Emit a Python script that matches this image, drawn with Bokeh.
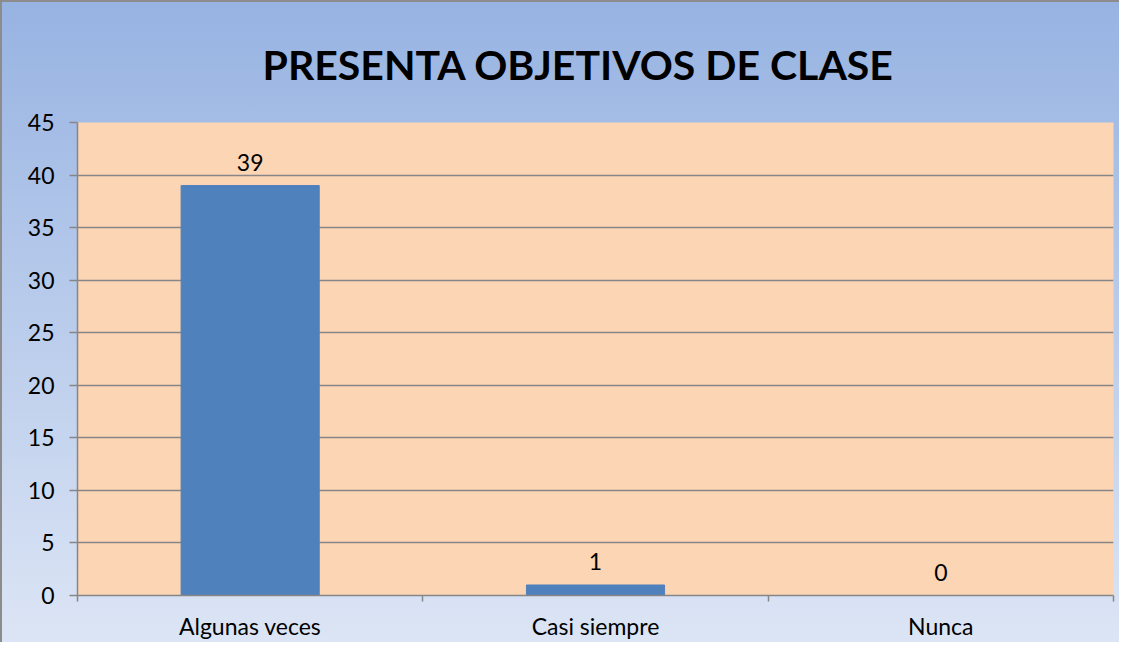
from bokeh.plotting import figure
from bokeh.models import ColumnDataSource, LabelSet, FixedTicker, Range1d
from bokeh.core.properties import value
from bokeh.embed import file_html
from bokeh.resources import INLINE

# ---- data ----
categories = ["Algunas veces", "Casi siempre", "Nunca"]
values = [39, 1, 0]
y_ticks = [0, 5, 10, 15, 20, 25, 30, 35, 40, 45]
title_text = "PRESENTA OBJETIVOS DE CLASE"

FONT = "Lato"
GRID = "#868686"

centers = [i + 0.5 for i in range(len(categories))]
bounds = list(range(len(categories) + 1))

src = ColumnDataSource(dict(x=centers, top=values, label=[str(v) for v in values]))

p = figure(width=1119, height=642,
           x_range=Range1d(0, len(categories)), y_range=Range1d(0, y_ticks[-1]),
           output_backend="svg", toolbar_location=None,
           min_border_left=77, min_border_right=6, min_border_top=122, min_border_bottom=45)

p.styles = {"background": "linear-gradient(to bottom, #97B3E2 0%, #DCE5F5 100%)",
            "box-shadow": "inset 2px 2px 0 #8C8C8C"}
p.border_fill_color = None
p.background_fill_color = "#FCD5B5"
p.outline_line_color = None

p.vbar(x="x", top="top", width=0.4, bottom=0, source=src,
       fill_color="#4F81BD", line_color="#4F81BD")

p.add_layout(LabelSet(x="x", y="top", text="label", source=src, y_offset=15,
                      text_align="center", text_baseline="alphabetic",
                      text_font_size="23px", text_font=value(FONT), text_color="black"))

# title
p.title.text = title_text
p.title.align = "left"
p.title.offset = 185
p.title.text_font = FONT
p.title.text_font_size = "41px"
p.title.text_font_style = "bold"
p.title.text_color = "black"
p.title.standoff = 68

# y axis
p.yaxis.ticker = FixedTicker(ticks=y_ticks)
p.ygrid.ticker = FixedTicker(ticks=y_ticks)
p.ygrid.grid_line_color = GRID
p.ygrid.grid_line_width = 1.5
p.xgrid.visible = False
p.yaxis.axis_line_color = GRID
p.yaxis.axis_line_width = 1.5
p.yaxis.major_tick_line_color = GRID
p.yaxis.major_tick_line_width = 1.5
p.yaxis.major_tick_out = 8
p.yaxis.major_tick_in = 0
p.yaxis.minor_tick_line_color = None
p.yaxis.major_label_standoff = 15
p.yaxis.major_label_text_font = FONT
p.yaxis.major_label_text_font_size = "23px"
p.yaxis.major_label_text_color = "black"

# x axis: labels at centers, ticks at category boundaries
p.xaxis.ticker = FixedTicker(ticks=centers, minor_ticks=bounds)
p.xaxis.major_label_overrides = {c: name for c, name in zip(centers, categories)}
p.xaxis.axis_line_color = GRID
p.xaxis.axis_line_width = 1.5
p.xaxis.major_tick_line_color = None
p.xaxis.minor_tick_line_color = GRID
p.xaxis.minor_tick_line_width = 1.5
p.xaxis.minor_tick_out = 6
p.xaxis.minor_tick_in = 0
p.xaxis.major_label_standoff = 10
p.xaxis.major_label_text_font = FONT
p.xaxis.major_label_text_font_size = "23px"
p.xaxis.major_label_text_color = "black"

open("out.html", "w").write(file_html(p, INLINE))
